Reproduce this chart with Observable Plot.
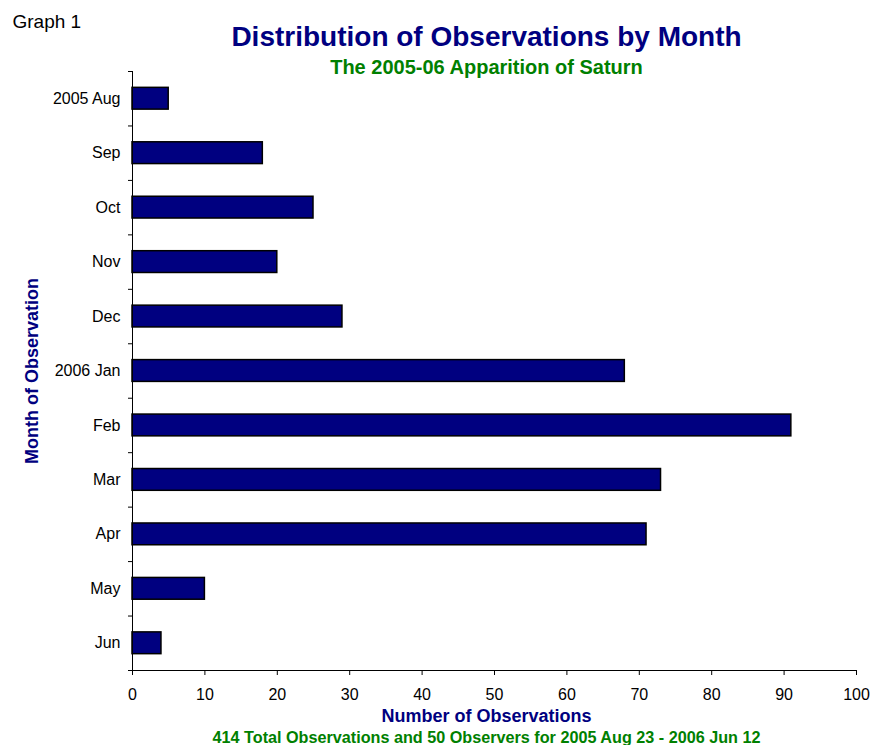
<!DOCTYPE html>
<html>
<head>
<meta charset="utf-8">
<script src="https://cdn.jsdelivr.net/npm/d3@7"></script>
<script src="https://cdn.jsdelivr.net/npm/@observablehq/plot@0.6"></script>
<style>
  html, body { margin: 0; padding: 0; background: #fff; }
</style>
</head>
<body>
<div id="chart"></div>
<script>
// ---- data ----
const months = ["2005 Aug", "Sep", "Oct", "Nov", "Dec", "2006 Jan", "Feb", "Mar", "Apr", "May", "Jun"];
const counts = [5, 18, 25, 20, 29, 68, 91, 73, 71, 10, 4];
const xTicks = [0, 10, 20, 30, 40, 50, 60, 70, 80, 90, 100];
const graphLabel = "Graph 1";
const title = "Distribution of Observations by Month";
const subtitle = "The 2005-06 Apparition of Saturn";
const xLabel = "Number of Observations";
const yLabel = "Month of Observation";
const caption = "414 Total Observations and 50 Observers for 2005 Aug 23 - 2006 Jun 12";

const rows = months.map((m, i) => ({month: m, count: counts[i]}));

const W = 873, H = 745;
const mL = 132, mR = 17, mT = 71, mB = 75;
const step = (H - mT - mB) / months.length;
const NAVY = "#000080", GREEN = "#008000";
const FONT = "'Liberation Sans', Arial, Helvetica, sans-serif";

const chart = Plot.plot({
  width: W,
  height: H,
  marginLeft: mL,
  marginRight: mR,
  marginTop: mT,
  marginBottom: mB,
  style: {fontFamily: FONT, fontSize: "16px", color: "#000", background: "#fff", overflow: "visible"},
  x: {domain: [0, 100]},
  y: {domain: months, paddingInner: 0.6, paddingOuter: 0.3, round: false},
  marks: [
    Plot.barX(rows, {x: "count", y: "month", fill: NAVY, stroke: "#000", strokeWidth: 1.5}),
    Plot.axisY({tickSize: 0, tickPadding: 12, label: null, fontSize: 16}),
    Plot.axisY({tickSize: 4, tickFormat: () => "", dy: -step / 2, label: null}),
    Plot.axisY({ticks: [months[months.length - 1]], tickSize: 4, tickFormat: () => "", dy: step / 2, label: null}),
    Plot.axisX({ticks: xTicks, tickSize: 5, tickPadding: 13, label: null, fontSize: 16}),
    Plot.ruleX([0]),
    Plot.frame({anchor: "bottom"}),
    Plot.text([graphLabel], {text: d => d, frameAnchor: "top-left", textAnchor: "start", lineAnchor: "bottom",
      dx: -120, dy: -44, fontSize: 19, fill: "#000"}),
    Plot.text([title], {text: d => d, frameAnchor: "top", lineAnchor: "bottom", dx: -8, dy: -26,
      fontSize: 28, fontWeight: "bold", fill: NAVY}),
    Plot.text([subtitle], {text: d => d, frameAnchor: "top", lineAnchor: "bottom", dx: -8, dy: 2,
      fontSize: 20, fontWeight: "bold", fill: GREEN}),
    Plot.text([xLabel], {text: d => d, frameAnchor: "bottom", lineAnchor: "bottom", dx: -8, dy: 51,
      fontSize: 18, fontWeight: "bold", fill: NAVY}),
    Plot.text([caption], {text: d => d, frameAnchor: "bottom", lineAnchor: "bottom", dx: -8, dy: 72,
      fontSize: 16.2, fontWeight: "bold", fill: GREEN}),
    Plot.text([yLabel], {text: d => d, frameAnchor: "left", rotate: -90, textAnchor: "middle", lineAnchor: "middle", dx: -100,
      fontSize: 18, fontWeight: "bold", fill: NAVY})
  ]
});
document.getElementById("chart").appendChild(chart);
</script>
</body>
</html>
